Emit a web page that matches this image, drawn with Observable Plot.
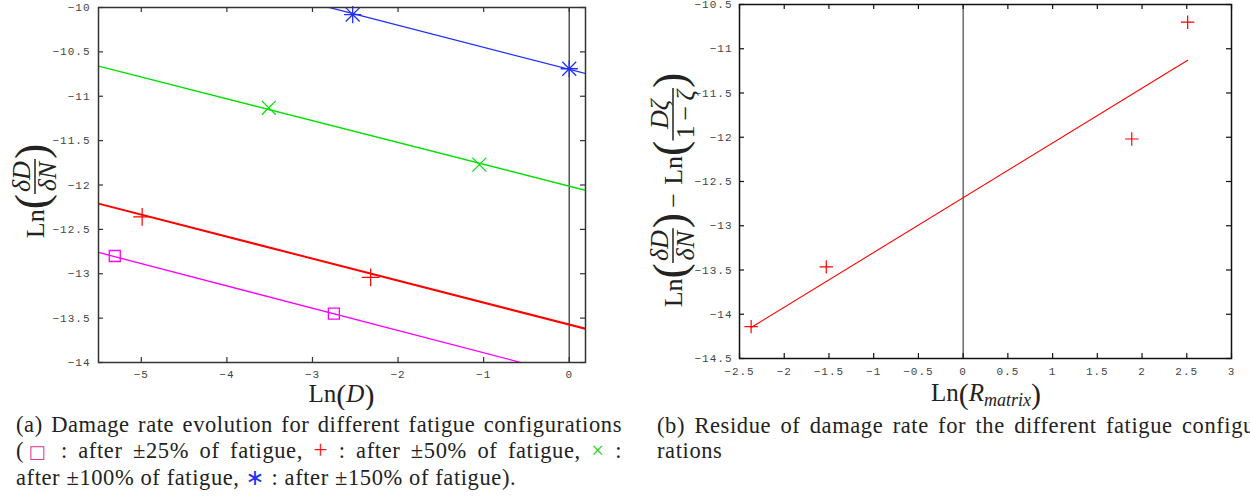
<!DOCTYPE html>
<html><head><meta charset="utf-8">
<script src="https://cdn.jsdelivr.net/npm/d3@7"></script>
<script src="https://cdn.jsdelivr.net/npm/@observablehq/plot@0.6"></script>
<style>
html,body{margin:0;padding:0;background:#fff;}
body{width:1250px;height:496px;overflow:hidden;position:relative;}
#pa,#pb{position:absolute;top:0;}
#pa{left:0;} #pb{left:620px;}
.cap{position:absolute;font-family:"Liberation Serif",serif;font-size:22.5px;line-height:25.5px;color:#222;letter-spacing:0.6px;}
.cap div{white-space:nowrap;}
.cap div.j{text-align:justify;text-align-last:justify;white-space:normal;}
.sym{font-family:"DejaVu Sans",sans-serif;}
</style></head><body>
<div id="pa"></div><div id="pb"></div>
<div class="cap" style="left:16px;top:411.5px;width:606px;">
  <div class="j">(a) Damage rate evolution for different fatigue configurations</div>
  <div class="j">(<span class="sym" style="color:#e0359a;font-size:18px;">□</span> : after ±25% of fatigue, <span style="color:#ff1010;font-size:25px;">+</span> : after ±50% of fatigue, <span style="color:#10d010;">×</span> :</div>
  <div>after ±100% of fatigue, <span class="sym" style="color:#2233ee;">∗</span> : after ±150% of fatigue).</div>
</div>
<div class="cap" style="left:657px;top:412.5px;width:606px;">
  <div class="j">(b) Residue of damage rate for the different fatigue configu-</div>
  <div>rations</div>
</div>
<script>
// ---------- Panel (a) data ----------
const seriesLabels = ["±25%", "±50%", "±100%", "±150%"];
const seriesColors = ["#ff00ff", "#ff0000", "#00e000", "#1f2fff"];
const sqX = [-5.31, -2.75],   sqY = [-12.80, -13.45];
const plusX = [-4.99, -2.32], plusY = [-12.36, -13.04];
const timesX = [-3.51, -1.05], timesY = [-11.13, -11.77];
const starX = [-2.53, 0.0],   starY = [-10.08, -10.69];
const fitX = [-5.5, 0.19];
const fitSq = [-12.76, -14.19];
const fitPlus = [-12.21, -13.62];
const fitTimes = [-10.66, -12.06];
const fitStar = [-9.33, -10.744];
const xTicksA = [-5, -4, -3, -2, -1, 0];
const yTicksA = [-14, -13.5, -13, -12.5, -12, -11.5, -11, -10.5, -10];

// ---------- Panel (b) data ----------
const resX = [-2.37, -1.53, 1.885, 2.51];
const resY = [-14.14, -13.465, -12.02, -10.70];
const resFitX = [-2.37, 2.51];
const resFitY = [-14.15, -11.13];
const xTicksB = [-2.5, -2, -1.5, -1, -0.5, 0, 0.5, 1, 1.5, 2, 2.5, 3];
const yTicksB = [-14.5, -14, -13.5, -13, -12.5, -12, -11.5, -11, -10.5];

const pts = (xs, ys) => xs.map((x, i) => ({x, y: ys[i]}));
const fmt = d => (d < 0 ? "\u2212" : "") + Math.abs(d);
const tickStyle = {fontFamily: "'Liberation Mono', monospace", fontSize: "11px", color: "#444", letterSpacing: "1px", background: "transparent"};

function frameTicks(xt, yt, iw, ih, col, len) {
  return [
    Plot.tickX(xt, {x: d => d, insetTop: ih - len, stroke: col, strokeWidth: 1.2}),
    Plot.tickX(xt, {x: d => d, insetBottom: ih - len, stroke: col, strokeWidth: 1.2}),
    Plot.tickY(yt, {y: d => d, insetRight: iw - len, stroke: col, strokeWidth: 1.2}),
    Plot.tickY(yt, {y: d => d, insetLeft: iw - len, stroke: col, strokeWidth: 1.2})
  ];
}

// Panel (a)
const A = {w: 600, h: 410, t: 7, r: 15, b: 48, l: 98};
const iwA = A.w - A.l - A.r, ihA = A.h - A.t - A.b;
const plotA = Plot.plot({
  width: A.w, height: A.h, marginTop: A.t, marginRight: A.r, marginBottom: A.b, marginLeft: A.l,
  x: {domain: [-5.5, 0.19]}, y: {domain: [-14, -10]},
  style: tickStyle,
  marks: [
    Plot.ruleX([0], {stroke: "#555", strokeWidth: 1.5}),
    Plot.line(pts(fitX, fitSq), {x: "x", y: "y", stroke: seriesColors[0], strokeWidth: 1.3, clip: true}),
    Plot.line(pts(fitX, fitPlus), {x: "x", y: "y", stroke: seriesColors[1], strokeWidth: 2, clip: true}),
    Plot.line(pts(fitX, fitTimes), {x: "x", y: "y", stroke: seriesColors[2], strokeWidth: 1.4, clip: true}),
    Plot.line(pts(fitX, fitStar), {x: "x", y: "y", stroke: seriesColors[3], strokeWidth: 1.3, clip: true}),
    Plot.dot(pts(sqX, sqY), {x: "x", y: "y", symbol: "square2", r: 7, stroke: seriesColors[0], strokeWidth: 1.3}),
    Plot.dot(pts(plusX, plusY), {x: "x", y: "y", symbol: "plus", r: 5.8, stroke: seriesColors[1], strokeWidth: 1.2}),
    Plot.dot(pts(timesX, timesY), {x: "x", y: "y", symbol: "times", r: 6.4, stroke: seriesColors[2], strokeWidth: 1.2}),
    Plot.dot(pts(starX, starY), {x: "x", y: "y", symbol: "plus", r: 5.6, stroke: seriesColors[3], strokeWidth: 1.3}),
    Plot.dot(pts(starX, starY), {x: "x", y: "y", symbol: "times", r: 6.4, stroke: seriesColors[3], strokeWidth: 1.3}),
    ...frameTicks(xTicksA, yTicksA, iwA, ihA, "#333", 5),
    Plot.axisX({ticks: xTicksA, tickFormat: fmt, tickSize: 0, tickPadding: 8, label: null, fill: "#444"}),
    Plot.axisY({ticks: yTicksA, tickFormat: fmt, tickSize: 0, tickPadding: 8, label: null, fill: "#444"}),
    Plot.frame({stroke: "#333", strokeWidth: 1.5})
  ]
});
document.getElementById("pa").appendChild(plotA);

// Panel (b)
const B = {w: 630, h: 410, t: 4, r: 19, b: 52, l: 119};
const iwB = B.w - B.l - B.r, ihB = B.h - B.t - B.b;
const plotB = Plot.plot({
  width: B.w, height: B.h, marginTop: B.t, marginRight: B.r, marginBottom: B.b, marginLeft: B.l,
  x: {domain: [-2.5, 3]}, y: {domain: [-14.5, -10.5]},
  style: tickStyle,
  marks: [
    Plot.ruleX([0], {stroke: "#222", strokeWidth: 1}),
    Plot.line(pts(resFitX, resFitY), {x: "x", y: "y", stroke: "#ff0000", strokeWidth: 1.1}),
    Plot.dot(pts(resX, resY), {x: "x", y: "y", symbol: "plus", r: 4.4, stroke: "#ff0000", strokeWidth: 1.2}),
    ...frameTicks(xTicksB, yTicksB, iwB, ihB, "#111", 5),
    Plot.axisX({ticks: xTicksB, tickFormat: fmt, tickSize: 0, tickPadding: 9, label: null, fill: "#444"}),
    Plot.axisY({ticks: yTicksB, tickFormat: fmt, tickSize: 0, tickPadding: 7, label: null, fill: "#444"}),
    Plot.frame({stroke: "#111", strokeWidth: 1.5})
  ]
});
document.getElementById("pb").appendChild(plotB);

// ---------- math-like axis titles ----------
const SERIF = "'Liberation Serif', 'DejaVu Serif', serif";
function txt(g, x, y, runs, size, anchor) {
  const t = g.append("text").attr("x", x).attr("y", y).attr("font-family", SERIF)
    .attr("font-size", size).attr("fill", "#222").attr("letter-spacing", "0")
    .attr("text-anchor", anchor || "start");
  runs.forEach(([s, it, sz, dy]) => {
    const sp = t.append("tspan").text(s);
    if (it) sp.attr("font-style", "italic");
    if (sz) sp.attr("font-size", sz);
    if (dy) sp.attr("dy", dy);
  });
  return t;
}
function compose(g, items) {
  let x = 0;
  items.forEach(it => {
    if (it.type === "t") {
      const t = txt(g, x, it.y, it.runs, it.size);
      x += t.node().getComputedTextLength() + (it.gap || 0);
    } else if (it.type === "f") {
      const n = txt(g, 0, -5, it.num, it.size), d = txt(g, 0, 21, it.den, it.size);
      const wn = n.node().getComputedTextLength(), wd = d.node().getComputedTextLength();
      const w = Math.max(wn, wd) + 4;
      n.attr("x", x + (w - wn) / 2); d.attr("x", x + (w - wd) / 2);
      g.append("line").attr("x1", x).attr("x2", x + w).attr("y1", 0).attr("y2", 0)
        .attr("stroke", "#222").attr("stroke-width", 1.5);
      x += w + (it.gap || 0);
    }
  });
  return x;
}
function vtitle(svg, tx, ty, items) {
  const outer = d3.select(svg).append("g").attr("transform", `translate(${tx},${ty}) rotate(-90)`);
  const inner = outer.append("g");
  const w = compose(inner, items);
  inner.attr("transform", `translate(${-w / 2},0)`);
}
const FS = 26;
const LN = {type: "t", runs: [["Ln"]], size: FS, y: 9};
const PL = {type: "t", runs: [["("]], size: 46, y: 12};
const PR = {type: "t", runs: [[")"]], size: 46, y: 12};
const FR1 = {type: "f", num: [["δD", true]], den: [["δN", true]], size: FS};

// left y title
vtitle(plotA, 35, 191, [LN, PL, FR1, PR]);
// right y title
vtitle(plotB, 673 - 620, 190, [
  LN, PL, FR1, PR,
  {type: "t", runs: [["\u2009\u2212\u2009"]], size: FS, y: 9, gap: 3},
  LN, PL,
  {type: "f", num: [["D", true], ["ζ", true]], den: [["1\u2009\u2212\u2009"], ["ζ", true]], size: FS},
  PR
]);
// x titles (single flowing text)
d3.select(plotA).call(s => txt(s, 341.5, 402, [
  ["Ln"], ["(", false, 30, 3], ["D", true, null, -3], [")", false, 30, 3]
], 25, "middle"));
d3.select(plotB).call(s => txt(s, 986 - 620, 401, [
  ["Ln"], ["(", false, 30, 3], ["R", true, null, -3], ["matrix", true, 18, 5], [")", false, 30, -2]
], 25, "middle"));
</script>
</body></html>
